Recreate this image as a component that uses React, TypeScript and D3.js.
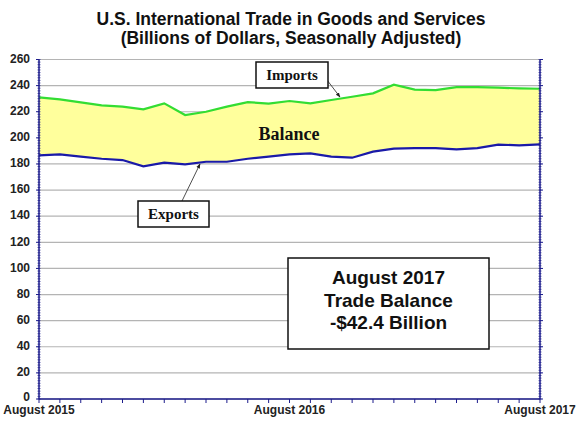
import * as d3 from 'd3';
import React from 'react';

// monthly, Aug 2015 .. Aug 2017
const months = [
	'2015-08', '2015-09', '2015-10', '2015-11', '2015-12',
	'2016-01', '2016-02', '2016-03', '2016-04', '2016-05', '2016-06', '2016-07',
	'2016-08', '2016-09', '2016-10', '2016-11', '2016-12',
	'2017-01', '2017-02', '2017-03', '2017-04', '2017-05', '2017-06', '2017-07', '2017-08',
];
const imports = [
	231.0, 229.5, 227.2, 224.9, 223.9, 221.8, 226.4, 217.5, 220.0, 223.9, 227.4, 226.2,
	228.2, 226.4, 229.0, 231.5, 234.1, 240.7, 236.9, 236.6, 238.9, 238.9, 238.4, 237.9, 237.6,
];
const exports = [
	186.6, 187.4, 185.6, 184.0, 183.0, 178.2, 181.0, 179.7, 181.7, 181.7, 184.0, 185.6,
	187.4, 188.1, 185.6, 184.8, 189.4, 191.7, 192.2, 192.2, 191.2, 192.2, 194.8, 194.3, 195.0,
];
const yTicks = [0, 20, 40, 60, 80, 100, 120, 140, 160, 180, 200, 220, 240, 260];
const xLabels = [
	{ m: '2015-08', text: 'August 2015' },
	{ m: '2016-08', text: 'August 2016' },
	{ m: '2017-08', text: 'August 2017' },
];
const title = ['U.S. International Trade in Goods and Services', '(Billions of Dollars, Seasonally Adjusted)'];
const boxLines = ['August 2017', 'Trade Balance', '-$42.4 Billion'];

const width = 580;
const height = 447;
const margin = { top: 59.5, right: 40, bottom: 48, left: 39 };

export default function App() {
	const x = d3.scalePoint<string>().domain(months).range([margin.left, width - margin.right]);
	const y = d3.scaleLinear().domain([0, 260]).range([height - margin.bottom, margin.top]);

	const rows = months.map((m, i) => ({ m, imp: imports[i], exp: exports[i] }));
	const area = d3
		.area<any>()
		.x((d) => x(d.m) as number)
		.y0((d) => y(d.exp))
		.y1((d) => y(d.imp));
	const impLine = d3.line<any>().x((d) => x(d.m) as number).y((d) => y(d.imp));
	const expLine = d3.line<any>().x((d) => x(d.m) as number).y((d) => y(d.exp));

	const x0 = margin.left;
	const x1 = width - margin.right;
	const minor = d3.range(0, 261, 2);
	const axisCol = '#1c1c8c';
	const sans = 'Arial, "Liberation Sans", sans-serif';
	const serif = '"Times New Roman", "Liberation Serif", serif';

	return (
		<svg width={width} height={height} style={{ position: 'absolute', left: 0, top: 0, background: '#fff' }}>
			<defs>
				<marker id="ah" viewBox="0 0 10 10" refX="9" refY="5" markerWidth="6" markerHeight="6" orient="auto">
					<path d="M0,1 L10,5 L0,9 z" fill="#222" />
				</marker>
			</defs>
			{title.map((t, i) => (
				<text key={t} x={291} y={25 + i * 18.5} textAnchor="middle" fontFamily={sans} fontWeight="bold" fontSize={17.5} fill="#111">
					{t}
				</text>
			))}
			{/* grid */}
			{yTicks.map((v) => (
				<line key={v} x1={x0} x2={x1} y1={y(v)} y2={y(v)} stroke="#b4b4b4" strokeWidth={1.2} />
			))}
			<path d={area(rows) as string} fill="#ffff9c" />
			<path d={impLine(rows) as string} fill="none" stroke="#33dd33" strokeWidth={2.2} />
			<path d={expLine(rows) as string} fill="none" stroke="#1a1aa8" strokeWidth={2.2} />
			{/* axes */}
			<line x1={x0} x2={x0} y1={y(260)} y2={y(0)} stroke={axisCol} strokeWidth={1.5} />
			<line x1={x1} x2={x1} y1={y(260)} y2={y(0)} stroke={axisCol} strokeWidth={1.5} />
			<line x1={x0} x2={x1} y1={y(0)} y2={y(0)} stroke={axisCol} strokeWidth={1.5} />
			{minor.map((v) => (
				<g key={'m' + v}>
					<line x1={x0 - 1.5} x2={x0 + 1.5} y1={y(v)} y2={y(v)} stroke={axisCol} strokeWidth={0.7} />
					<line x1={x1 - 1.5} x2={x1 + 1.5} y1={y(v)} y2={y(v)} stroke={axisCol} strokeWidth={0.7} />
				</g>
			))}
			{yTicks.map((v) => (
				<g key={'t' + v}>
					<line x1={x0 - 3} x2={x0} y1={y(v)} y2={y(v)} stroke={axisCol} strokeWidth={1} />
					<line x1={x1} x2={x1 + 3} y1={y(v)} y2={y(v)} stroke={axisCol} strokeWidth={1} />
					<text x={x0 - 9} y={y(v) - (v === 0 ? 2 : 1)} dy="0.35em" textAnchor="end" fontFamily={sans} fontWeight="bold" fontSize={12} fill="#222">
						{v}
					</text>
				</g>
			))}
			{months.map((m) => (
				<line key={m} x1={x(m)} x2={x(m)} y1={y(0)} y2={y(0) + 4} stroke={axisCol} strokeWidth={1} />
			))}
			{xLabels.map((d) => (
				<text
					key={d.m}
					x={x(d.m) as number}
					y={y(0) + 15}
					textAnchor="middle"
					fontFamily={sans}
					fontWeight="bold"
					fontSize={12}
					fill="#222"
				>
					{d.text}
				</text>
			))}
			{/* labels */}
			<text x={289} y={140} textAnchor="middle" fontFamily={serif} fontWeight="bold" fontSize={18} fill="#111">
				Balance
			</text>
			<line x1={327} y1={80} x2={340} y2={97} stroke="#222" strokeWidth={0.8} markerEnd="url(#ah)" />
			<rect x={256} y={62} width={72} height={26} fill="#fff" stroke="#111" strokeWidth={1.5} />
			<text x={292} y={80} textAnchor="middle" fontFamily={serif} fontWeight="bold" fontSize={15} fill="#111">
				Imports
			</text>
			<line x1={182} y1={201} x2={200} y2={164} stroke="#222" strokeWidth={0.8} markerEnd="url(#ah)" />
			<rect x={138} y={201} width={71} height={26} fill="#fff" stroke="#111" strokeWidth={1.5} />
			<text x={173.5} y={219} textAnchor="middle" fontFamily={serif} fontWeight="bold" fontSize={15} fill="#111">
				Exports
			</text>
			<rect x={288} y={258} width={201} height={91} fill="#fff" stroke="#111" strokeWidth={1.5} />
			{boxLines.map((t, i) => (
				<text key={t} x={388.5} y={284 + i * 22.5} textAnchor="middle" fontFamily={sans} fontWeight="bold" fontSize={19} fill="#111">
					{t}
				</text>
			))}
		</svg>
	);
}
